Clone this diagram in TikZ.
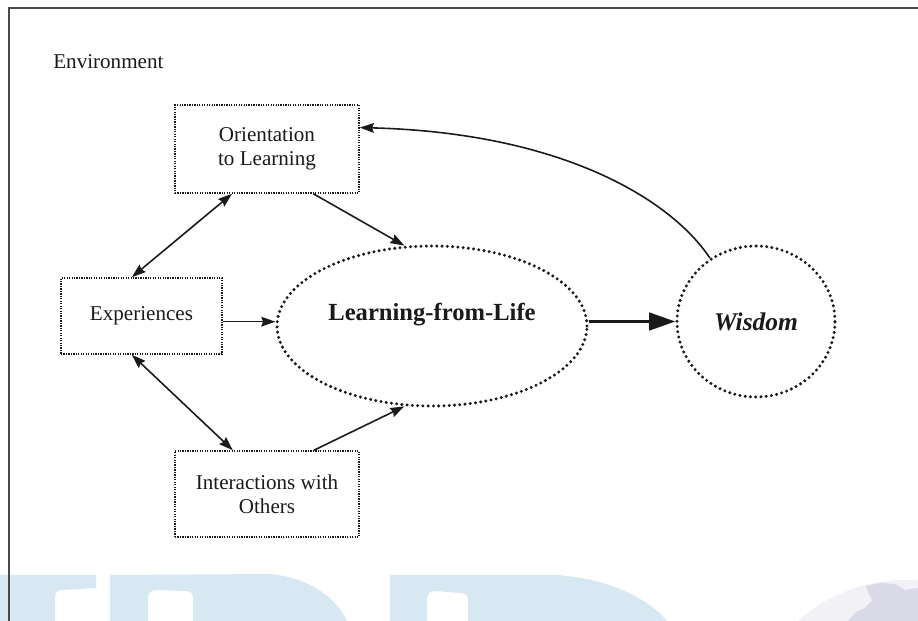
\documentclass[tikz,border=0pt]{standalone}
\usepackage{fontspec}
\setmainfont{Liberation Serif}
\usetikzlibrary{positioning}
\usetikzlibrary{arrows.meta}
\usetikzlibrary{shapes.geometric}

\definecolor{ink}{HTML}{1A1A1A}
\definecolor{rule}{HTML}{4A4A4A}
\definecolor{markblue}{HTML}{D8E8F2}
\definecolor{globe}{HTML}{F1F1F6}
\definecolor{land}{HTML}{DAD9E8}

\tikzset{
    dotbox/.style={draw=ink, line width=0.9pt, dash pattern=on 0.7pt off 0.7pt,
        align=center, text=ink, font=\fontsize{12}{13.6}\selectfont},
    dotoval/.style={draw=ink, ellipse, line width=1.9pt, line cap=round,
        dash pattern=on 0pt off 3pt, inner sep=0pt, text=ink},
    link/.style={draw=ink, line width=0.9pt, -{Stealth[length=8pt,width=5.5pt,inset=1pt]}},
    twoway/.style={link, {Stealth[length=8pt,width=5.5pt,inset=1pt]}-{Stealth[length=8pt,width=5.5pt,inset=1pt]}},
    bigarrow/.style={draw=ink, line width=1.8pt, -{Triangle[length=15pt,width=10pt]}}
}

\begin{document}
\begin{tikzpicture}[x=0.02cm,y=-0.02cm]

    \clip (0,0) rectangle (918,621);
    \fill[white] (0,0) rectangle (918,621);

    % letters and globe along the bottom edge
    \fill[markblue] (0,575) -- (96,575) -- (96,588) -- (62,590)
        .. controls (57,590) and (55,593) .. (55,598) -- (55,621) -- (0,621) -- cycle;
    \fill[markblue] (110,575) -- (270,574) .. controls (305,577) and (335,595) .. (347,621)
        -- (193,621) -- (193,598) .. controls (193,593) and (190,591) .. (185,591)
        -- (156,590) .. controls (151,590) and (148,593) .. (148,598) -- (148,621) -- (110,621) -- cycle;
    \fill[markblue] (390,575) -- (555,575) .. controls (610,578) and (650,600) .. (667,621)
        -- (468,621) -- (468,600) .. controls (468,595) and (465,593) .. (460,593)
        -- (436,591) .. controls (430,591) and (427,594) .. (427,599) -- (427,621) -- (390,621) -- cycle;
    \fill[globe] (905,740) circle (160);
    \fill[land] (866,586) -- (880,583) -- (895,584) -- (905,590) -- (918,588) -- (918,621)
        -- (848,621) -- (856,612) -- (865,608) -- (872,600) -- (868,592) -- cycle;

    \draw[rule, line width=1.1pt] (9,640) -- (9,8) -- (930,8);

    \node[anchor=base west, inner sep=0pt, text=ink, font=\fontsize{12}{14}\selectfont] (env) at (53,69) {Environment};

    \node[dotbox, minimum width=3.68cm, minimum height=1.76cm] (ori) at (267,149) {Orientation\\to Learning};
    \node[dotbox, minimum width=3.22cm, minimum height=1.52cm] (exp) at (141.5,316) {Experiences};
    \node[dotbox, minimum width=3.68cm, minimum height=1.72cm] (oth) at (267,494) {Interactions with\\Others};

    \node[dotoval, minimum width=6.2cm, minimum height=3.2cm, font=\fontsize{14}{16}\selectfont\bfseries] (lfl)
        at (432,326) {\raisebox{3pt}[0pt][0pt]{Learning-from-Life}};
    \node[dotoval, minimum width=3.16cm, minimum height=3.02cm, font=\fontsize{14.5}{16}\selectfont\bfseries\itshape] (wis)
        at (756,321.5) {Wisdom};

    \draw[twoway] (ori.232) -- (exp.104);
    \draw[link] (ori.-44) -- (lfl.109);
    \draw[link] (exp.-4) -- (exp.-4 -| lfl.west);
    \draw[twoway] (exp.256) -- (oth.128);
    \draw[link] (oth.43) -- (lfl.251);
    \draw[bigarrow] (wis.west -| lfl.east) -- (wis.west);
    \draw[link] (wis.126) .. controls +(-40,-60) and +(200,5) .. (ori.13);

\end{tikzpicture}
\end{document}
